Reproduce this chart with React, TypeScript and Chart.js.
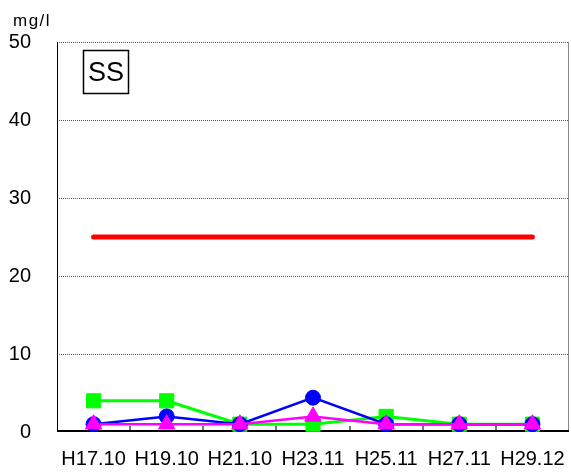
import React, { useEffect, useRef } from "react";
import { Chart, registerables } from "chart.js";

Chart.register(...registerables);

const categories = ["H17.10", "H19.10", "H21.10", "H23.11", "H25.11", "H27.11", "H29.12"];
const standardValues = [25, 25, 25, 25, 25, 25, 25];
const greenValues = [4, 4, 1, 1, 2, 1, 1];
const blueValues = [1, 2, 1, 4.4, 1, 1, 1];
const magentaValues = [1, 1, 1, 2, 1, 1, 1];
const yTicks = [0, 10, 20, 30, 40, 50];
const unitLabel = "mg/l";
const boxLabel = "SS";

const FONT = "'Liberation Sans', Arial, sans-serif";

const framePlugin = {
  id: "frame",
  beforeDatasetsDraw(chart: any) {
    const { ctx, chartArea } = chart;
    const x = chart.scales.x;
    const y = chart.scales.y;
    const { left, right, top, bottom } = chartArea;
    ctx.save();
    ctx.strokeStyle = "#555";
    ctx.lineWidth = 1;
    ctx.setLineDash([1, 1]);
    for (const v of yTicks) {
      if (v === 0) continue;
      const py = Math.round(y.getPixelForValue(v)) + 0.5;
      ctx.beginPath();
      ctx.moveTo(left, py);
      ctx.lineTo(right, py);
      ctx.stroke();
    }
    ctx.setLineDash([]);
    ctx.strokeStyle = "#888";
    ctx.beginPath();
    ctx.moveTo(right - 0.5, top);
    ctx.lineTo(right - 0.5, bottom);
    ctx.stroke();
    ctx.strokeStyle = "#000";
    ctx.beginPath();
    ctx.moveTo(left + 0.5, top);
    ctx.lineTo(left + 0.5, bottom);
    ctx.stroke();
    ctx.strokeStyle = "#777";
    ctx.lineWidth = 2;
    for (let i = 0; i < categories.length - 1; i++) {
      const px = Math.round((x.getPixelForValue(i) + x.getPixelForValue(i + 1)) / 2);
      ctx.beginPath();
      ctx.moveTo(px, bottom);
      ctx.lineTo(px, bottom - 6);
      ctx.stroke();
    }
    ctx.strokeStyle = "#000";
    ctx.lineWidth = 2;
    ctx.beginPath();
    ctx.moveTo(left, bottom - 1);
    ctx.lineTo(right, bottom - 1);
    ctx.stroke();
    ctx.restore();
  },
  afterDraw(chart: any) {
    const { ctx, chartArea } = chart;
    ctx.save();
    ctx.fillStyle = "#000";
    ctx.font = `17px ${FONT}`;
    ctx.textBaseline = "alphabetic";
    ctx.textAlign = "left";
    try { (ctx as any).letterSpacing = "1.5px"; } catch (e) {}
    ctx.fillText(unitLabel, 13, 26);
    try { (ctx as any).letterSpacing = "0px"; } catch (e) {}
    const bx = chartArea.left + 26;
    const by = chartArea.top + 8;
    const bw = 45;
    const bh = 43;
    ctx.fillStyle = "#fff";
    ctx.fillRect(bx, by, bw, bh);
    ctx.strokeStyle = "#000";
    ctx.lineWidth = 1.5;
    ctx.strokeRect(bx + 0.5, by + 0.5, bw, bh);
    ctx.fillStyle = "#000";
    ctx.font = `27px ${FONT}`;
    ctx.textAlign = "center";
    ctx.textBaseline = "middle";
    ctx.fillText(boxLabel, bx + bw / 2 + 0.5, by + bh / 2 + 2);
    ctx.restore();
  },
};

export default function App() {
  const ref = useRef<HTMLCanvasElement | null>(null);
  useEffect(() => {
    document.body.style.margin = "0";
    const canvas = ref.current!;
    const chart = new Chart(canvas, {
      type: "line",
      data: {
        labels: categories,
        datasets: [
          {
            label: "magenta",
            data: magentaValues,
            borderColor: "#ff00ff",
            backgroundColor: "#ff00ff",
            borderWidth: 2.5,
            pointStyle: "triangle",
            pointRadius: 9.5,
            pointBorderWidth: 1,
            tension: 0,
          },
          {
            label: "blue",
            data: blueValues,
            borderColor: "#0000ff",
            backgroundColor: "#0000ff",
            borderWidth: 2.5,
            pointStyle: "circle",
            pointRadius: 7.5,
            pointBorderWidth: 1,
            tension: 0,
          },
          {
            label: "green",
            data: greenValues,
            borderColor: "#00ff00",
            backgroundColor: "#00ff00",
            borderWidth: 3,
            pointStyle: "rect",
            pointRadius: 10,
            pointBorderWidth: 1,
            tension: 0,
          },
          {
            label: "standard",
            data: standardValues,
            borderColor: "#ff0000",
            backgroundColor: "#ff0000",
            borderWidth: 5,
            borderCapStyle: "round",
            pointRadius: 0,
            tension: 0,
          },
        ],
      },
      options: {
        responsive: false,
        animation: false,
        events: [],
        layout: { autoPadding: false, padding: { left: 0, right: 2, top: 42, bottom: 0 } },
        plugins: {
          legend: { display: false },
          tooltip: { enabled: false },
          title: { display: false },
        },
        scales: {
          x: {
            type: "category",
            offset: true,
            grid: { display: false, drawTicks: false },
            border: { display: false },
            ticks: {
              color: "#000",
              font: { family: FONT, size: 20 },
              padding: 15,
              maxRotation: 0,
              autoSkip: false,
            },
            afterFit(scale: any) {
              scale.height = 41;
              scale.paddingLeft = 0;
              scale.paddingRight = 0;
            },
          },
          y: {
            min: 0,
            max: 50,
            grid: { display: false, drawTicks: false },
            border: { display: false },
            afterBuildTicks(scale: any) {
              scale.ticks = yTicks.map((v) => ({ value: v }));
            },
            ticks: {
              color: "#000",
              font: { family: FONT, size: 20 },
              padding: 26,
            },
            afterFit(scale: any) {
              scale.width = 57;
              scale.paddingTop = 0;
              scale.paddingBottom = 0;
            },
          },
        },
      },
      plugins: [framePlugin],
    } as any);
    return () => chart.destroy();
  }, []);
  return <canvas ref={ref} width={571} height={473} style={{ display: "block", width: 571, height: 473 }} />;
}
